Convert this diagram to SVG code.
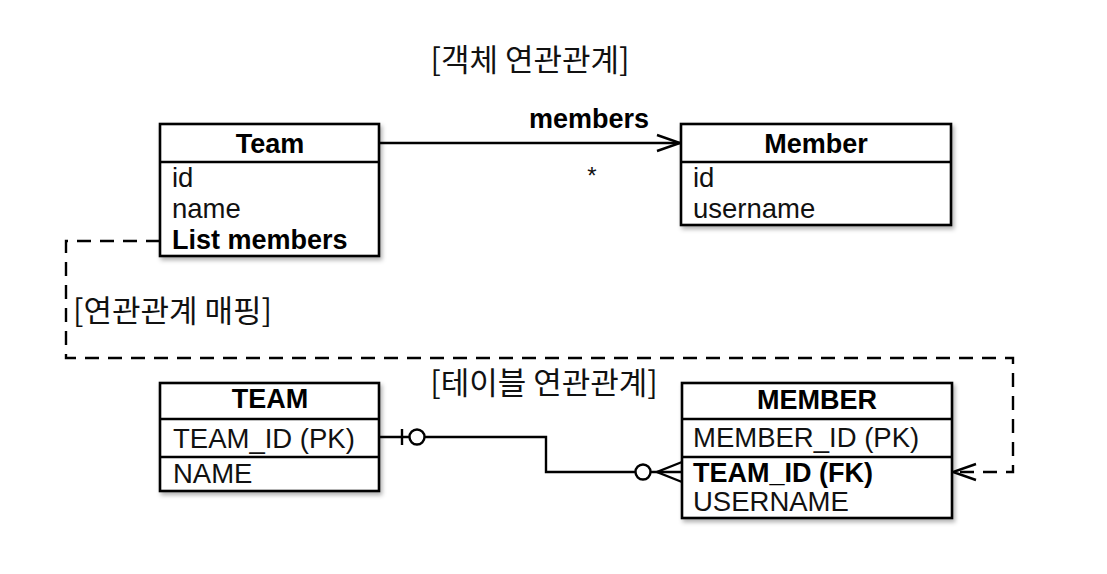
<svg xmlns="http://www.w3.org/2000/svg" width="1107" height="574" viewBox="0 0 1107 574">
<style>
.box{fill:#fff;stroke:#000;stroke-width:2.6;filter:url(#sh)}
.div{stroke:#000;stroke-width:2.6}
.hd{font-family:"Liberation Sans",Arial,sans-serif;font-size:27px;font-weight:bold;text-anchor:middle;fill:#000}
.at{font-family:"Liberation Sans",Arial,sans-serif;font-size:27.5px;fill:#111}
.atb{font-family:"Liberation Sans",Arial,sans-serif;font-size:27px;font-weight:bold;fill:#000}
.kr{font-family:"Noto Sans CJK KR","Noto Sans",sans-serif;font-size:31px;fill:#111}
.ln{fill:none;stroke:#000;stroke-width:2.4}
.dash{fill:none;stroke:#000;stroke-width:2.4;stroke-dasharray:14 9}
</style>
<defs>
<filter id="sh" x="-10%" y="-10%" width="125%" height="130%">
<feDropShadow dx="2" dy="3" stdDeviation="2" flood-color="#000" flood-opacity="0.3"/>
</filter>
</defs>
<rect width="1107" height="574" fill="#fff"/>

<text class="kr" x="530" y="71" text-anchor="middle">[객체 연관관계]</text>
<text class="kr" x="544" y="394" text-anchor="middle">[테이블 연관관계]</text>
<text class="kr" x="73" y="322">[연관관계 매핑]</text>

<g id="connectors">
<path class="ln" d="M379,143 H680"/>
<path class="ln" d="M657,135 L680,143 L657,151"/>
<text class="atb" x="589" y="128" text-anchor="middle">members</text>
<text class="at" x="592" y="184" text-anchor="middle" style="font-size:24px">*</text>
<path class="dash" d="M160,241 H66 V358 H1013 V472 H953"/>
<path class="ln" d="M976,464 L953,472 L976,480"/>
<path class="ln" d="M379,437 H546 V472 H682"/>
<line class="ln" x1="402" y1="429" x2="402" y2="445"/>
<circle class="ln" cx="417" cy="437" r="7.5" style="fill:#fff"/>
<circle class="ln" cx="643" cy="472" r="7.5" style="fill:#fff"/>
<path class="ln" d="M682,462 L657,472 L682,482"/>
</g>

<g id="Team">
<rect class="box" x="160" y="124" width="219" height="132"/>
<line class="div" x1="160" y1="162" x2="379" y2="162"/>
<text class="hd" x="270" y="153">Team</text>
<text class="at" x="172" y="187">id</text>
<text class="at" x="172" y="218">name</text>
<text class="atb" x="172" y="249">List members</text>
</g>

<g id="Member">
<rect class="box" x="681" y="124" width="270" height="101"/>
<line class="div" x1="681" y1="162" x2="951" y2="162"/>
<text class="hd" x="816" y="153">Member</text>
<text class="at" x="693" y="187">id</text>
<text class="at" x="693" y="218">username</text>
</g>

<g id="TEAM">
<rect class="box" x="160" y="383" width="219" height="108"/>
<line class="div" x1="160" y1="419" x2="379" y2="419"/>
<line class="div" x1="160" y1="457" x2="379" y2="457"/>
<text class="hd" x="270" y="408">TEAM</text>
<text class="at" x="173" y="448">TEAM_ID (PK)</text>
<text class="at" x="173" y="483">NAME</text>
</g>

<g id="MEMBER">
<rect class="box" x="682" y="383" width="270" height="135"/>
<line class="div" x1="682" y1="419" x2="952" y2="419"/>
<line class="div" x1="682" y1="457" x2="952" y2="457"/>
<text class="hd" x="817" y="409">MEMBER</text>
<text class="at" x="693" y="447">MEMBER_ID (PK)</text>
<text class="atb" x="693" y="482">TEAM_ID (FK)</text>
<text class="at" x="693" y="511">USERNAME</text>
</g>
</svg>
